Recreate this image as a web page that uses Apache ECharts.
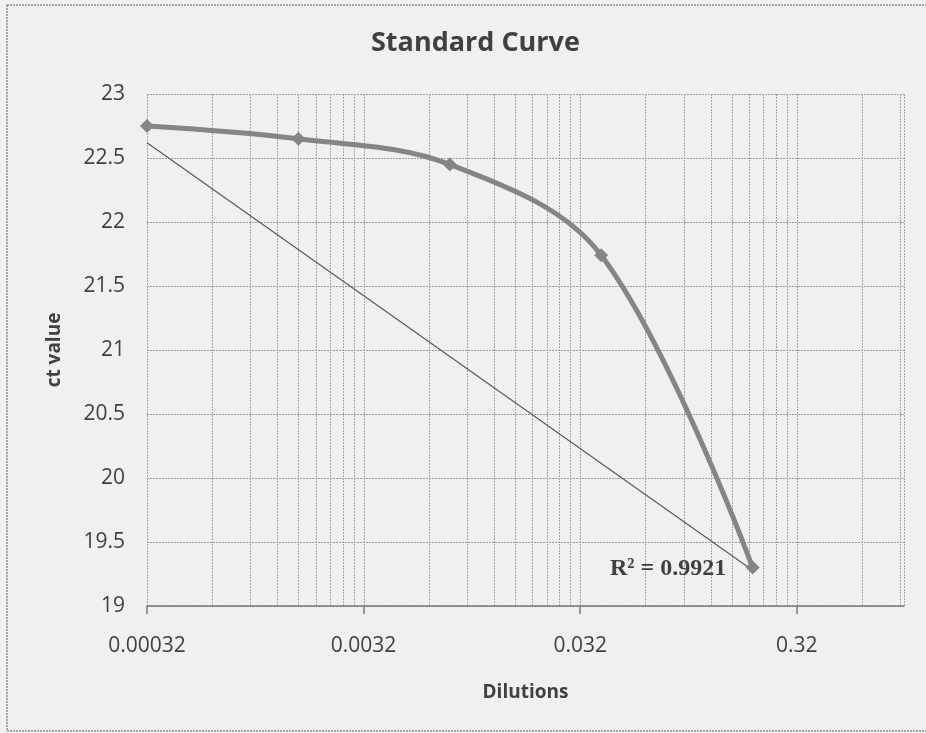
<!DOCTYPE html>
<html>
<head>
<meta charset="utf-8">
<script src="https://cdn.jsdelivr.net/npm/echarts@6/dist/echarts.min.js"></script>
<style>html,body{margin:0;padding:0;background:#f0f0f0;}#c{width:926px;height:733px;}</style>
</head>
<body>
<div id="c"></div>
<script>
// ---- data ----
const dilutions = [0.00032, 0.0016, 0.008, 0.04, 0.2];
const ctValues = [22.75, 22.65, 22.45, 21.74, 19.30];
const trendX = [0.00032, 0.2];
const trendY = [22.62, 19.28];
const xTickValues = [0.00032, 0.0032, 0.032, 0.32];
const xTickLabels = ['0.00032', '0.0032', '0.032', '0.32'];
const xMin = 0.00032, xMax = 1;
const yMin = 19, yMax = 23, yStep = 0.5;
const r2Text = 'R\u00B2 = 0.9921';

// vertical gridlines (log minor lines k = 1..9 in each decade)
const vGrid = [];
xTickValues.forEach(function (base) {
  for (let k = 1; k <= 9; k++) {
    const v = base * k;
    if (v <= xMax * 1.0001) vGrid.push(v);
  }
});
vGrid.push(xMax);

const font = '"Open Sans", "Liberation Sans", sans-serif';
const chart = echarts.init(document.getElementById('c'), null, {renderer: 'canvas'});
chart.setOption({
  backgroundColor: '#f0f0f0',
  animation: false,
  title: {
    text: 'Standard Curve',
    left: 366, top: 25,
    textStyle: {fontFamily: font, fontSize: 27, fontWeight: 'bold', color: '#404040'}
  },
  grid: {left: 147, right: 22, top: 94, bottom: 127},
  xAxis: {
    type: 'log', logBase: 10, min: xMin, max: xMax,
    name: 'Dilutions', nameLocation: 'middle', nameGap: 77,
    nameTextStyle: {fontFamily: font, fontSize: 19, fontWeight: 'bold', color: '#404040'},
    axisLine: {show: true, lineStyle: {color: '#7a7a7a', width: 1.5}},
    axisTick: {show: true, customValues: xTickValues, length: 8, inside: false, lineStyle: {color: '#7a7a7a', width: 1.5}},
    axisLabel: {
      customValues: xTickValues, margin: 30, fontFamily: font, fontSize: 21, color: '#404040',
      formatter: function (v) {
        for (let i = 0; i < xTickValues.length; i++) {
          if (Math.abs(v - xTickValues[i]) < xTickValues[i] * 1e-6) return xTickLabels[i];
        }
        return '';
      }
    },
    splitLine: {show: false},
    minorTick: {show: false}, minorSplitLine: {show: false}
  },
  yAxis: {
    type: 'value', min: yMin, max: yMax, interval: yStep,
    name: 'ct value', nameLocation: 'middle', nameGap: 83, nameRotate: 90,
    nameTextStyle: {fontFamily: font, fontSize: 19, fontWeight: 'bold', color: '#404040'},
    axisLine: {show: false}, axisTick: {show: false},
    axisLabel: {margin: 22, fontFamily: font, fontSize: 21, color: '#404040'},
    splitLine: {show: true, lineStyle: {color: '#9c9c9c', type: [2, 1], width: 1}}
  },
  series: [
    {
      name: 'vgrid', type: 'custom', silent: true, z: 0,
      data: vGrid.map(function (v) { return [v]; }),
      encode: {x: 0},
      renderItem: function (params, api) {
        const xv = api.value(0);
        const p1 = api.coord([xv, yMin]);
        const p2 = api.coord([xv, yMax]);
        return {
          type: 'line',
          shape: {x1: Math.round(p1[0]) + 0.5, y1: p1[1], x2: Math.round(p2[0]) + 0.5, y2: p2[1]},
          style: {stroke: '#a6a6a6', lineWidth: 1, lineDash: [2, 1]}
        };
      }
    },
    {
      name: 'trend', type: 'line', silent: true,
      data: trendX.map(function (x, i) { return [x, trendY[i]]; }),
      showSymbol: false, symbol: 'none',
      lineStyle: {color: '#5a5a5a', width: 1.2}
    },
    {
      name: 'ct', type: 'line',
      data: dilutions.map(function (x, i) { return [x, ctValues[i]]; }),
      smooth: 0.35,
      symbol: 'diamond', symbolSize: 14,
      itemStyle: {color: '#858585'},
      lineStyle: {color: '#858585', width: 5}
    }
  ],
  graphic: [
    {type: 'rect', silent: true, z: 100,
     shape: {x: 7, y: 5, width: 940, height: 726},
     style: {fill: 'none', stroke: '#8c8c8c', lineWidth: 1.5, lineDash: [2, 1]}},
    {type: 'text', left: 610, top: 557, z: 100,
     style: {text: r2Text, font: 'bold 24px "Liberation Serif", "Times New Roman", serif', fill: '#404040'}}
  ]
});
</script>
</body>
</html>
